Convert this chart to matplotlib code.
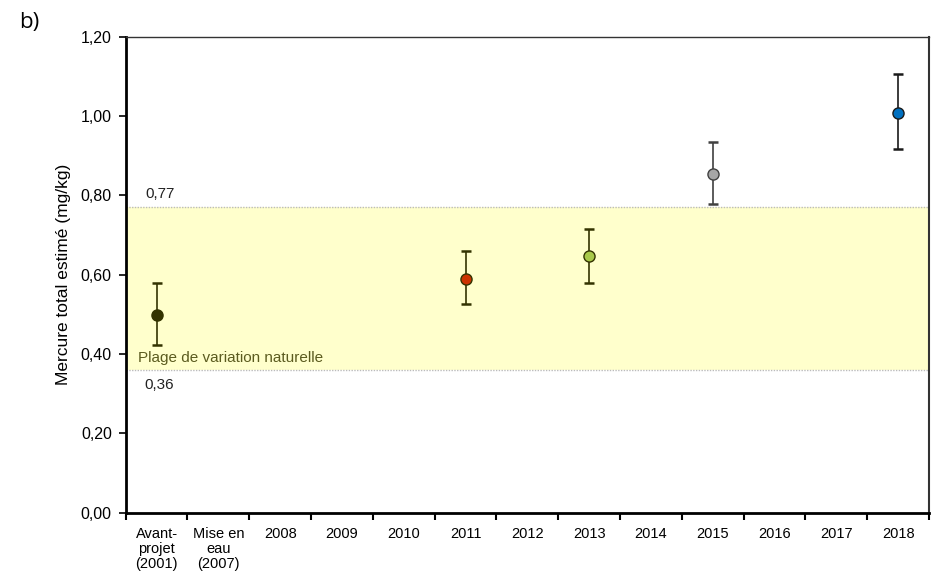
import matplotlib
matplotlib.use("Agg")
import matplotlib.pyplot as plt
import numpy as np

plt.rcParams['font.family'] = ['Liberation Sans', 'DejaVu Sans']

categories = ["Avant-\nprojet\n(2001)", "Mise en\neau\n(2007)", "2008", "2009", "2010", "2011",
              "2012", "2013", "2014", "2015", "2016", "2017", "2018"]
point_cats = ["Avant-\nprojet\n(2001)", "2011", "2013", "2015", "2018"]
means = [0.499, 0.590, 0.646, 0.854, 1.008]
lower = [0.423, 0.526, 0.580, 0.779, 0.917]
upper = [0.578, 0.660, 0.716, 0.935, 1.106]
face_colors = ["#333300", "#CC3300", "#A9C94A", "#A6A6A6", "#0070C0"]
edge_colors = ["#333300", "#333300", "#333300", "#404040", "#1a1a1a"]
err_colors = ["#333300", "#333300", "#333300", "#404040", "#1a1a1a"]
band_low, band_high = 0.36, 0.77
band_label = "Plage de variation naturelle"
yticks = [0.0, 0.2, 0.4, 0.6, 0.8, 1.0, 1.2]

fig = plt.figure(figsize=(9.33, 5.79), dpi=100)
ax = fig.add_axes([0.1347, 0.1145, 0.8610, 0.8221])

ax.set_xlim(-0.5, len(categories) - 0.5)
ax.set_ylim(0, 1.2)

ax.axhspan(band_low, band_high, facecolor="#FFFFCC", edgecolor="none", zorder=0)
ax.axhline(band_low, color="#BBBBBB", lw=1.0, ls=(0, (1, 1)), zorder=1)
ax.axhline(band_high, color="#BBBBBB", lw=1.0, ls=(0, (1, 1)), zorder=1)
ax.text(0.05, band_high + 0.015, "0,77", fontsize=11, ha="center", va="bottom", color="#222222")
ax.text(0.05, band_low - 0.02, "0,36", fontsize=11, ha="center", va="top", color="#222222")
ax.text(-0.3, band_low + 0.012, band_label, fontsize=11, ha="left", va="bottom", color="#5B5B1F")

xpos = [categories.index(c) for c in point_cats]
for x, m, lo, hi, fc, ec, erc in zip(xpos, means, lower, upper, face_colors, edge_colors, err_colors):
    ax.errorbar([x], [m], yerr=[[m - lo], [hi - m]], fmt="none", ecolor=erc,
                elinewidth=1.2, capsize=3.3, capthick=1.8, zorder=3)
    ax.plot([x], [m], "o", ms=8, mfc=fc, mec=ec, mew=1.0, zorder=4)

ax.set_yticks(yticks)
ax.set_yticklabels([f"{v:.2f}".replace(".", ",") for v in yticks], fontsize=11.5)
ax.set_xticks(np.arange(-0.5, len(categories), 1.0))
ax.set_xticklabels([])
ax.set_xticks(np.arange(len(categories)), minor=True)
ax.set_xticklabels(categories, minor=True, fontsize=10.5, va="top", linespacing=1.12)
ax.tick_params(axis="x", which="minor", length=0, pad=10)
ax.tick_params(axis="x", which="major", length=5, width=1.5, direction="out")
ax.tick_params(axis="y", length=5, width=1.2, direction="out", pad=5)

ax.set_ylabel("Mercure total estimé (mg/kg)", fontsize=12.5, labelpad=7)

ax.spines["left"].set_linewidth(2.0)
ax.spines["bottom"].set_linewidth(2.0)
ax.spines["left"].set_color("black")
ax.spines["bottom"].set_color("black")
ax.spines["top"].set_linewidth(1.0)
ax.spines["top"].set_color("#333333")
ax.spines["right"].set_linewidth(1.5)
ax.spines["right"].set_color("#333333")

fig.text(0.021, 0.962, "b)", fontsize=16, family=["Open Sans", "DejaVu Sans"], ha="left", va="center")

fig.savefig("out.png", dpi=100)
